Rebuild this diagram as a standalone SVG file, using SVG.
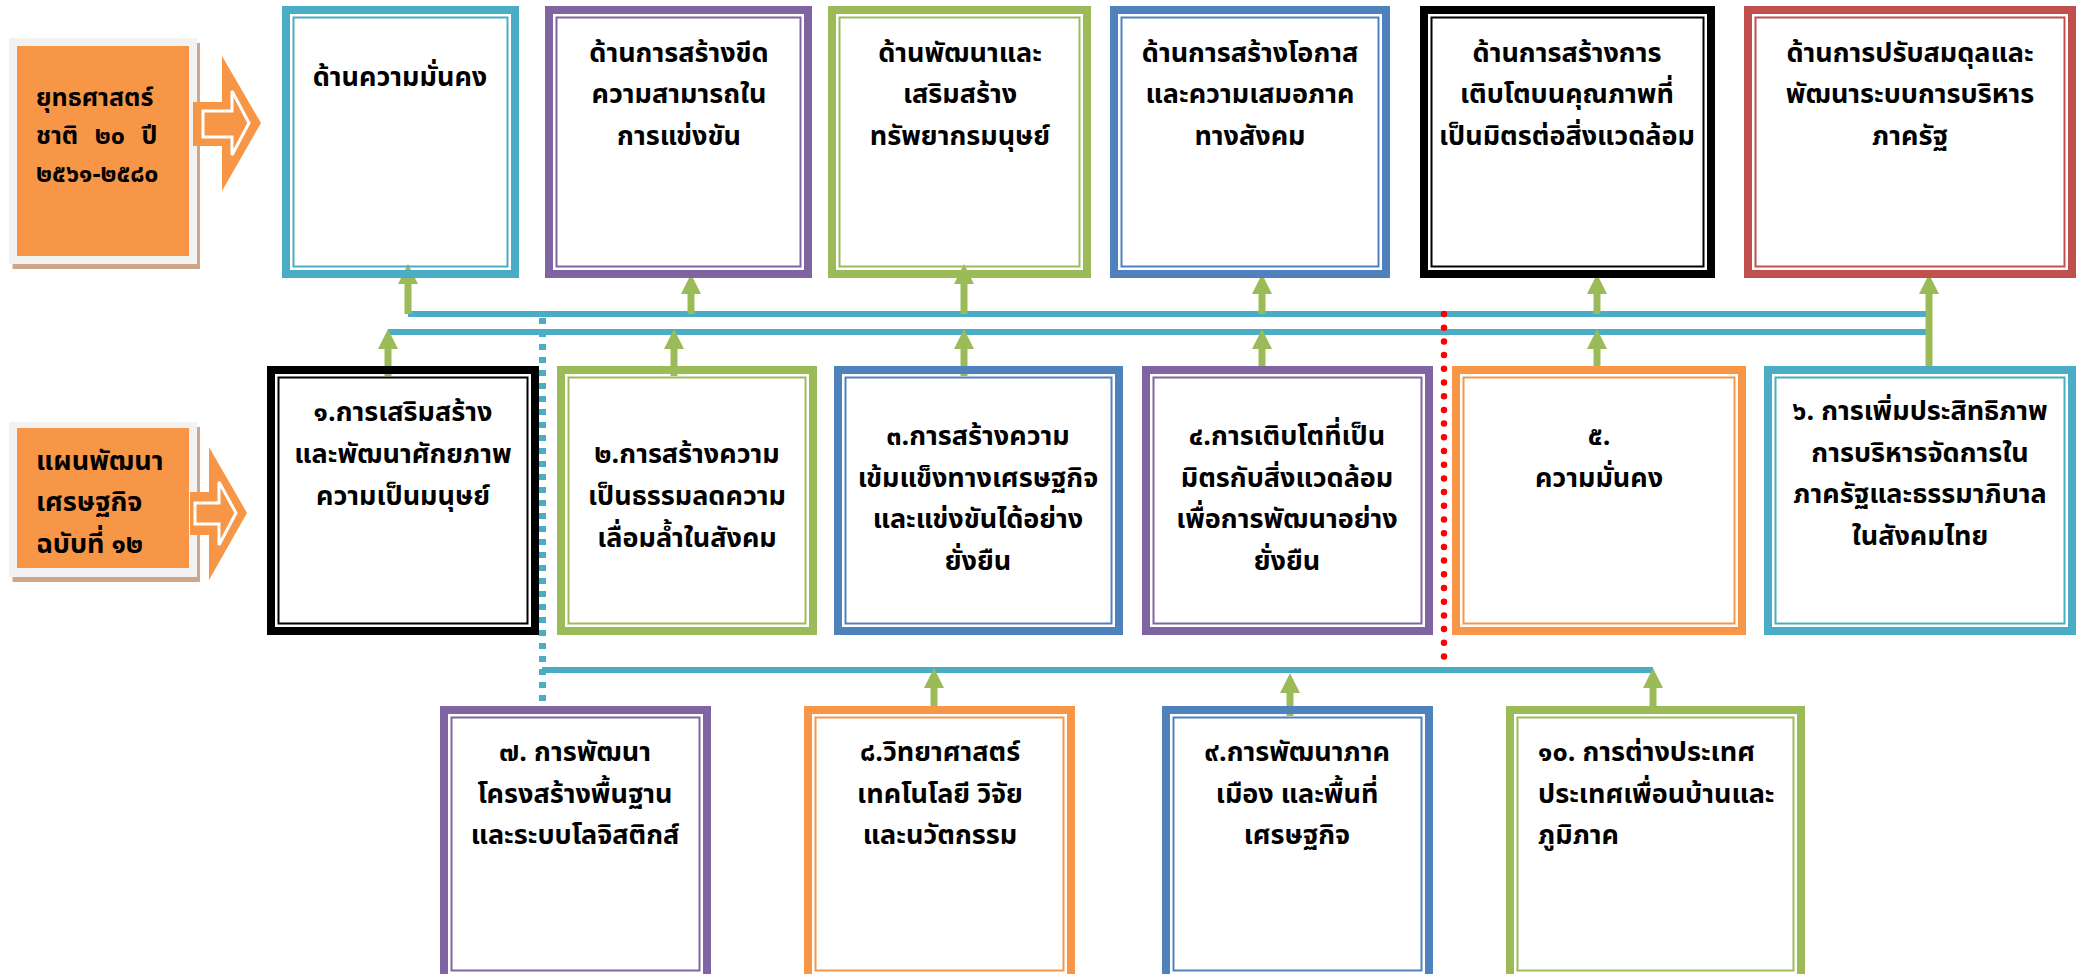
<svg xmlns="http://www.w3.org/2000/svg" width="2085" height="974" viewBox="0 0 2085 974">
<style>
.t{font-family:"Noto Sans Thai","Noto Sans","DejaVu Sans",sans-serif;font-size:27px;font-weight:bold;fill:#000;text-anchor:middle}
.tl{text-anchor:start}
.ts{font-size:25px}
.ob{fill:none;stroke-width:8}
.ib{fill:none;stroke-width:2}
.teal{stroke:#4BACC6}.pur{stroke:#8064A2}.grn{stroke:#9BBB59}.blu{stroke:#4F81BD}.blk{stroke:#000}.red{stroke:#C0504D}.org{stroke:#F79646}
.bl{stroke:#4BACC6;stroke-width:6;fill:none}
.ga{stroke:#9BBB59;stroke-width:7;fill:none;marker-end:url(#ah)}
</style>
<defs>
<marker id="ah" markerUnits="userSpaceOnUse" markerWidth="20" markerHeight="20" viewBox="0 0 20 20" refX="1" refY="10" orient="auto"><path d="M0,0 L20,10 L0,20 z" fill="#9BBB59"/></marker>
</defs>
<rect width="2085" height="974" fill="#fff"/>

<g id="src-strategy">
<rect x="12.5" y="43" width="187.5" height="226" fill="#CFA68A"/>
<rect x="9" y="38" width="188" height="226" fill="#F2F2F2"/>
<rect x="17" y="46" width="172" height="210" fill="#F79646"/>
<text class="t tl ts" x="36" y="106">ยุทธศาสตร์</text>
<text class="t tl ts" x="36" y="144" word-spacing="10">ชาติ ๒๐ ปี</text>
<text class="t tl ts" x="36" y="182">๒๕๖๑-๒๕๘๐</text>
<polygon points="193,102 222,102 222,56 261,123 222,191 222,146 193,146" fill="#F79646"/>
<polygon points="203,111 232,111 232,91 249,123 232,155 232,137 203,137" fill="none" stroke="#fff" stroke-width="3"/>
</g>

<g id="src-plan">
<rect x="12.5" y="427" width="187.5" height="155" fill="#CFA68A"/>
<rect x="9" y="422" width="188" height="155" fill="#F2F2F2"/>
<rect x="17" y="428" width="172" height="140" fill="#F79646"/>
<text class="t tl" x="36" y="470">แผนพัฒนา</text>
<text class="t tl" x="36" y="511">เศรษฐกิจ</text>
<text class="t tl" x="36" y="553">ฉบับที่ ๑๒</text>
<polygon points="190,492 209,492 209,447 247,513 209,580 209,535 190,535" fill="#F79646"/>
<polygon points="195,503 219,503 219,482 236,513 219,545 219,524 195,524" fill="none" stroke="#fff" stroke-width="3"/>
</g>

<g id="connectors">
<line class="bl" x1="408" y1="314" x2="1929" y2="314"/>
<line class="bl" x1="388" y1="332" x2="1929" y2="332"/>
<line class="bl" x1="542" y1="670" x2="1653" y2="670"/>
<line x1="542.5" y1="318" x2="542.5" y2="714" stroke="#4BACC6" stroke-width="7" stroke-dasharray="6 7"/>
<line x1="1444" y1="314" x2="1444" y2="670" stroke="#FF0000" stroke-width="6.5" stroke-linecap="round" stroke-dasharray="0 13.7"/>
<line class="ga" x1="408" y1="314" x2="408" y2="283"/>
<line class="ga" x1="691" y1="314" x2="691" y2="293"/>
<line class="ga" x1="964" y1="314" x2="964" y2="283"/>
<line class="ga" x1="1262" y1="314" x2="1262" y2="293"/>
<line class="ga" x1="1597" y1="314" x2="1597" y2="293"/>
<line class="ga" x1="1929" y1="372" x2="1929" y2="293"/>
<line class="ga" x1="388" y1="376" x2="388" y2="348"/>
<line class="ga" x1="674" y1="376" x2="674" y2="348"/>
<line class="ga" x1="964" y1="376" x2="964" y2="348"/>
<line class="ga" x1="1262" y1="372" x2="1262" y2="348"/>
<line class="ga" x1="1597" y1="372" x2="1597" y2="348"/>
<line class="ga" x1="934" y1="712" x2="934" y2="687"/>
<line class="ga" x1="1290" y1="716" x2="1290" y2="692"/>
<line class="ga" x1="1653" y1="712" x2="1653" y2="687"/>
</g>

<g id="t1">
<rect class="ob teal" x="286" y="10" width="229" height="264"/>
<rect class="ib teal" x="293.5" y="17.5" width="214" height="249"/>
<text class="t" x="400" y="86">ด้านความมั่นคง</text>
</g>
<g id="t2">
<rect class="ob pur" x="549" y="10" width="259" height="264"/>
<rect class="ib pur" x="556.5" y="17.5" width="244" height="249"/>
<text class="t" x="679" y="62">ด้านการสร้างขีด</text>
<text class="t" x="679" y="103">ความสามารถใน</text>
<text class="t" x="679" y="145">การแข่งขัน</text>
</g>
<g id="t3">
<rect class="ob grn" x="832" y="10" width="255" height="264"/>
<rect class="ib grn" x="839.5" y="17.5" width="240" height="249"/>
<text class="t" x="960" y="62">ด้านพัฒนาและ</text>
<text class="t" x="960" y="103">เสริมสร้าง</text>
<text class="t" x="960" y="145">ทรัพยากรมนุษย์</text>
</g>
<g id="t4">
<rect class="ob blu" x="1114" y="10" width="272" height="264"/>
<rect class="ib blu" x="1121.5" y="17.5" width="257" height="249"/>
<text class="t" x="1250" y="62">ด้านการสร้างโอกาส</text>
<text class="t" x="1250" y="103">และความเสมอภาค</text>
<text class="t" x="1250" y="145">ทางสังคม</text>
</g>
<g id="t5">
<rect class="ob blk" x="1424" y="10" width="287" height="264"/>
<rect class="ib blk" x="1431.5" y="17.5" width="272" height="249"/>
<text class="t" x="1567" y="62">ด้านการสร้างการ</text>
<text class="t" x="1567" y="103">เติบโตบนคุณภาพที่</text>
<text class="t" x="1567" y="145">เป็นมิตรต่อสิ่งแวดล้อม</text>
</g>
<g id="t6">
<rect class="ob red" x="1748" y="10" width="324" height="264"/>
<rect class="ib red" x="1755.5" y="17.5" width="309" height="249"/>
<text class="t" x="1910" y="62">ด้านการปรับสมดุลและ</text>
<text class="t" x="1910" y="103">พัฒนาระบบการบริหาร</text>
<text class="t" x="1910" y="145">ภาครัฐ</text>
</g>

<g id="p1">
<rect class="ob blk" x="271" y="370" width="264" height="261"/>
<rect class="ib blk" x="278.5" y="377.5" width="249" height="246"/>
<text class="t" x="403" y="421">๑.การเสริมสร้าง</text>
<text class="t" x="403" y="463">และพัฒนาศักยภาพ</text>
<text class="t" x="403" y="505">ความเป็นมนุษย์</text>
</g>
<g id="p2">
<rect class="ob grn" x="561" y="370" width="252" height="261"/>
<rect class="ib grn" x="568.5" y="377.5" width="237" height="246"/>
<text class="t" x="687" y="463">๒.การสร้างความ</text>
<text class="t" x="687" y="505">เป็นธรรมลดความ</text>
<text class="t" x="687" y="547">เลื่อมล้ำในสังคม</text>
</g>
<g id="p3">
<rect class="ob blu" x="838" y="370" width="281" height="261"/>
<rect class="ib blu" x="845.5" y="377.5" width="266" height="246"/>
<text class="t" x="978" y="445">๓.การสร้างความ</text>
<text class="t" x="978" y="487">เข้มแข็งทางเศรษฐกิจ</text>
<text class="t" x="978" y="528">และแข่งขันได้อย่าง</text>
<text class="t" x="978" y="570">ยั่งยืน</text>
</g>
<g id="p4">
<rect class="ob pur" x="1146" y="370" width="283" height="261"/>
<rect class="ib pur" x="1153.5" y="377.5" width="268" height="246"/>
<text class="t" x="1287" y="445">๔.การเติบโตที่เป็น</text>
<text class="t" x="1287" y="487">มิตรกับสิ่งแวดล้อม</text>
<text class="t" x="1287" y="528">เพื่อการพัฒนาอย่าง</text>
<text class="t" x="1287" y="570">ยั่งยืน</text>
</g>
<g id="p5">
<rect class="ob org" x="1456" y="370" width="286" height="261"/>
<rect class="ib org" x="1463.5" y="377.5" width="271" height="246"/>
<text class="t" x="1599" y="445">๕.</text>
<text class="t" x="1599" y="487">ความมั่นคง</text>
</g>
<g id="p6">
<rect class="ob teal" x="1768" y="370" width="304" height="261"/>
<rect class="ib teal" x="1775.5" y="377.5" width="289" height="246"/>
<text class="t" x="1920" y="420">๖. การเพิ่มประสิทธิภาพ</text>
<text class="t" x="1920" y="462">การบริหารจัดการใน</text>
<text class="t" x="1920" y="503">ภาครัฐและธรรมาภิบาล</text>
<text class="t" x="1920" y="545">ในสังคมไทย</text>
</g>

<g id="p7">
<rect class="ob pur" x="444" y="710" width="263" height="268"/>
<rect class="ib pur" x="451.5" y="717.5" width="248" height="253"/>
<text class="t" x="575" y="761">๗. การพัฒนา</text>
<text class="t" x="575" y="803">โครงสร้างพื้นฐาน</text>
<text class="t" x="575" y="844">และระบบโลจิสติกส์</text>
</g>
<g id="p8">
<rect class="ob org" x="808" y="710" width="263" height="268"/>
<rect class="ib org" x="815.5" y="717.5" width="248" height="253"/>
<text class="t" x="940" y="761">๘.วิทยาศาสตร์</text>
<text class="t" x="940" y="803">เทคโนโลยี วิจัย</text>
<text class="t" x="940" y="844">และนวัตกรรม</text>
</g>
<g id="p9">
<rect class="ob blu" x="1166" y="710" width="263" height="268"/>
<rect class="ib blu" x="1173.5" y="717.5" width="248" height="253"/>
<text class="t" x="1297" y="761">๙.การพัฒนาภาค</text>
<text class="t" x="1297" y="803">เมือง และพื้นที่</text>
<text class="t" x="1297" y="844">เศรษฐกิจ</text>
</g>
<g id="p10">
<rect class="ob grn" x="1510" y="710" width="291" height="268"/>
<rect class="ib grn" x="1517.5" y="717.5" width="276" height="253"/>
<text class="t tl" x="1538" y="761">๑๐. การต่างประเทศ</text>
<text class="t tl" x="1538" y="803">ประเทศเพื่อนบ้านและ</text>
<text class="t tl" x="1538" y="844">ภูมิภาค</text>
</g>
</svg>
